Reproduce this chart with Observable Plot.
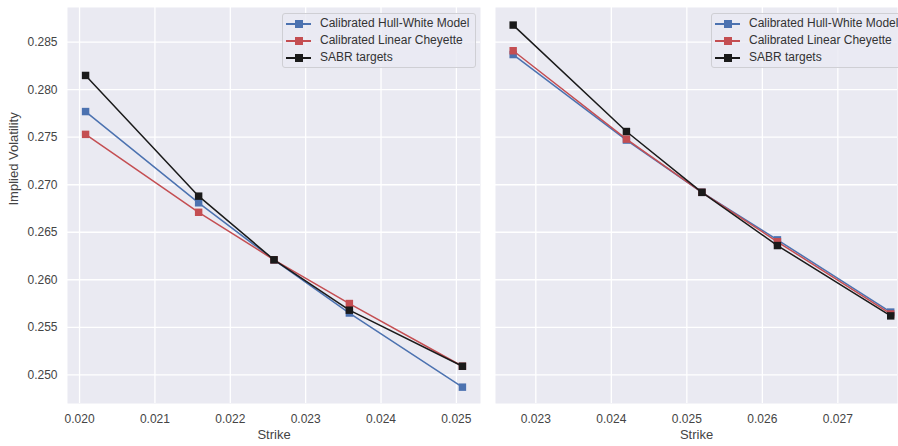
<!DOCTYPE html>
<html><head><meta charset="utf-8">
<script src="https://cdn.jsdelivr.net/npm/d3@7"></script>
<script src="https://cdn.jsdelivr.net/npm/@observablehq/plot@0.6"></script>
<style>
html,body{margin:0;padding:0;background:#fff;overflow:hidden}
#wrap{position:relative;width:898px;height:446px;overflow:hidden;font-family:"Liberation Sans",Arial,sans-serif}
.panel{position:absolute;top:0}
.legend{position:absolute;top:13px;width:194px;height:55px;background:rgba(234,234,242,0.8);border:1px solid #cfcfd4;border-radius:3px;box-sizing:border-box}
.item{position:absolute;left:0;height:17px;width:100%}
.item .ln{position:absolute;left:3px;width:25px;top:8px;height:1.5px}
.item .mk{position:absolute;left:12px;top:5px;width:8px;height:8px}
.item .tx{position:absolute;left:37px;top:1px;font-size:12px;color:#333;white-space:nowrap;line-height:15px}
</style></head><body><div id="wrap"></div>
<script>
const seriesNames = ["Calibrated Hull-White Model", "Calibrated Linear Cheyette", "SABR targets"];
const seriesColors = ["#4C72B0", "#C44E52", "#1A1A1A"];

const strikesLeft = [0.02008, 0.02158, 0.02258, 0.02358, 0.02508];
const hwLeft   = [0.2777, 0.2681, 0.2621, 0.2565, 0.2487];
const lcLeft   = [0.2753, 0.2671, 0.2621, 0.2575, 0.2509];
const sabrLeft = [0.2815, 0.2688, 0.2621, 0.2568, 0.2509];

const strikesRight = [0.0227, 0.0242, 0.0252, 0.0262, 0.0277];
const hwRight   = [0.2837, 0.2747, 0.2692, 0.2642, 0.2566];
const lcRight   = [0.2841, 0.2748, 0.2692, 0.2640, 0.2564];
const sabrRight = [0.2868, 0.2756, 0.2692, 0.2636, 0.2562];

const yTicks = [0.250, 0.255, 0.260, 0.265, 0.270, 0.275, 0.280, 0.285];
const xTicksLeft = [0.020, 0.021, 0.022, 0.023, 0.024, 0.025];
const xTicksRight = [0.023, 0.024, 0.025, 0.026, 0.027];

const yDomain = [0.24698, 0.28865];
const xDomainLeft = [0.01984, 0.02532];
const xDomainRight = [0.022466, 0.02779];

const fmt = d3.format(".3f");
const wrap = document.getElementById("wrap");
const ff = '"Liberation Sans", Arial, sans-serif';

function panel(strikes, seriesVals, xDomain, xTicks, showY, width, marginLeft, marginRight, left) {
  const marks = [
    Plot.frame({fill: "#EAEAF2", stroke: null}),
    Plot.gridX(xTicks, {stroke: "#ffffff", strokeOpacity: 1, strokeWidth: 1.3}),
    Plot.gridY(yTicks, {stroke: "#ffffff", strokeOpacity: 1, strokeWidth: 1.3}),
    Plot.axisX(xTicks, {tickSize: 0, tickPadding: 11, tickFormat: fmt, label: null, fill: "#444"}),
    Plot.text(["Strike"], {frameAnchor: "bottom", dy: 35, text: d => d, fill: "#444", fontSize: 13}),
    showY
      ? Plot.axisY(yTicks, {tickSize: 0, tickPadding: 10, tickFormat: fmt, label: null, fill: "#444"})
      : Plot.axisY([], {label: null})
  ];
  if (showY) marks.push(Plot.text(["Implied Volatility"], {frameAnchor: "left", dx: -54, rotate: -90, text: d => d, fill: "#444", fontSize: 13}));
  seriesVals.forEach((vals, i) => {
    const data = strikes.map((x, j) => ({x, y: vals[j], s: seriesNames[i]}));
    marks.push(Plot.line(data, {x: "x", y: "y", stroke: seriesColors[i], strokeWidth: 1.5}));
    marks.push(Plot.dot(data, {x: "x", y: "y", fill: seriesColors[i], symbol: "square", r: 4.2, stroke: null}));
  });
  const svg = Plot.plot({
    width, height: 446,
    marginTop: 7, marginBottom: 43, marginLeft, marginRight,
    style: {fontFamily: ff, fontSize: "12px", color: "#444", background: "transparent", overflow: "visible"},
    x: {domain: xDomain, label: null},
    y: {domain: yDomain, label: null},
    marks
  });
  svg.classList.add("panel");
  svg.style.left = left + "px";
  wrap.appendChild(svg);
}

panel(strikesLeft, [hwLeft, lcLeft, sabrLeft], xDomainLeft, xTicksLeft, true, 484, 67, 4, 0);
panel(strikesRight, [hwRight, lcRight, sabrRight], xDomainRight, xTicksRight, false, 414, 11, 1, 484);

function legend(left) {
  const box = document.createElement("div");
  box.className = "legend";
  box.style.left = left + "px";
  seriesNames.forEach((name, i) => {
    const it = document.createElement("div");
    it.className = "item";
    it.style.top = (1 + i * 17) + "px";
    it.innerHTML = `<div class="ln" style="background:${seriesColors[i]}"></div><div class="mk" style="background:${seriesColors[i]}"></div><div class="tx"></div>`;
    it.querySelector(".tx").textContent = name;
    box.appendChild(it);
  });
  wrap.appendChild(box);
}
legend(282);
legend(711);
</script>
</body></html>
